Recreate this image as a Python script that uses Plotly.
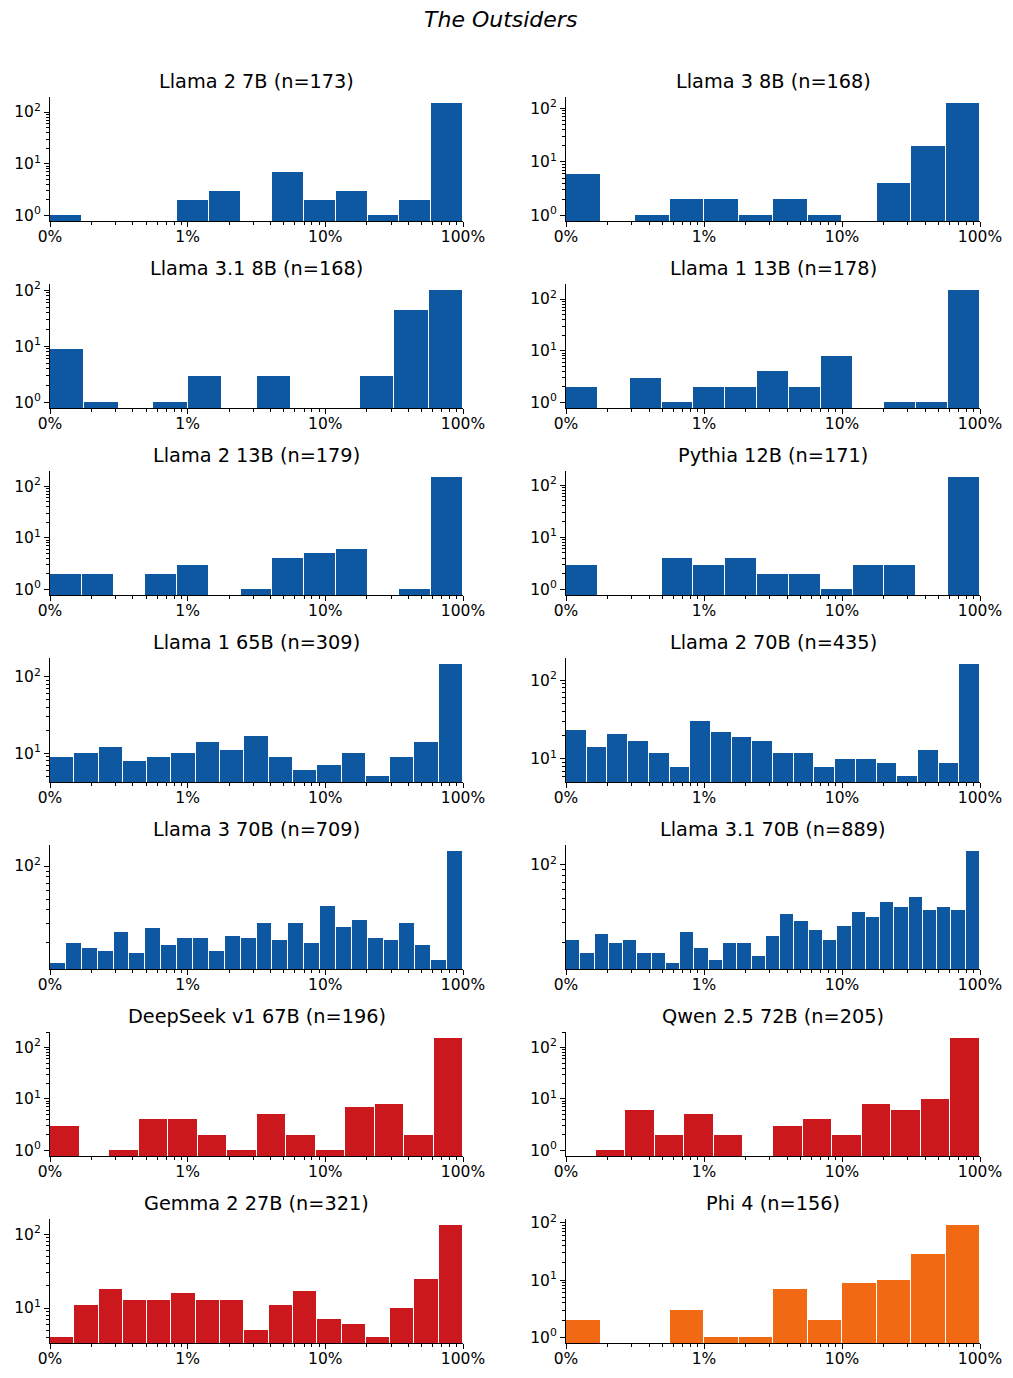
import numpy as np
import plotly.graph_objects as go

# ---- data: histogram counts per model (bins equally spaced in log10 of share, 0.1%..100%)
titles = [
    "Llama 2 7B (n=173)", "Llama 3 8B (n=168)",
    "Llama 3.1 8B (n=168)", "Llama 1 13B (n=178)",
    "Llama 2 13B (n=179)", "Pythia 12B (n=171)",
    "Llama 1 65B (n=309)", "Llama 2 70B (n=435)",
    "Llama 3 70B (n=709)", "Llama 3.1 70B (n=889)",
    "DeepSeek v1 67B (n=196)", "Qwen 2.5 72B (n=205)",
    "Gemma 2 27B (n=321)", "Phi 4 (n=156)",
]
llama2_7b = [1, 0, 0, 0, 2, 3, 0, 7, 2, 3, 1, 2, 152]
llama3_8b = [6, 0, 1, 2, 2, 1, 2, 1, 0, 4, 20, 129]
llama31_8b = [9, 1, 0, 1, 3, 0, 3, 0, 0, 3, 45, 103]
llama1_13b = [2, 0, 3, 1, 2, 2, 4, 2, 8, 0, 1, 1, 152]
llama2_13b = [2, 2, 0, 2, 3, 0, 1, 4, 5, 6, 0, 1, 153]
pythia_12b = [3, 0, 0, 4, 3, 4, 2, 2, 1, 3, 3, 0, 146]
llama1_65b = [9, 10, 12, 8, 9, 10, 14, 11, 17, 9, 6, 7, 10, 5, 9, 14, 149]
llama2_70b = [23, 14, 21, 17, 12, 8, 30, 22, 19, 17, 12, 12, 8, 10, 10, 9, 6, 13, 9, 163]
llama3_70b = [13, 20, 18, 17, 25, 16, 27, 19, 22, 22, 17, 23, 22, 30, 21, 30, 20, 43,
              28, 32, 22, 21, 30, 19, 14, 138]
llama31_70b = [21, 16, 24, 20, 21, 16, 16, 13, 25, 18, 14, 20, 20, 15, 23, 36, 31, 26,
               21, 28, 38, 34, 46, 42, 51, 39, 42, 39, 134]
deepseek_67b = [3, 0, 1, 4, 4, 2, 1, 5, 2, 1, 7, 8, 2, 156]
qwen25_72b = [0, 1, 6, 2, 5, 2, 0, 3, 4, 2, 8, 6, 10, 156]
gemma2_27b = [4, 11, 18, 13, 13, 16, 13, 13, 5, 11, 17, 7, 6, 4, 10, 25, 135]
phi4 = [2, 0, 0, 3, 1, 1, 7, 2, 9, 10, 28, 93]

series = [llama2_7b, llama3_8b, llama31_8b, llama1_13b, llama2_13b, pythia_12b,
          llama1_65b, llama2_70b, llama3_70b, llama31_70b, deepseek_67b, qwen25_72b,
          gemma2_27b, phi4]

x_tick_vals = [-3, -2, -1, 0]
x_tick_text = ["0%", "1%", "10%", "100%"]
y_tick_vals = [1, 10, 100]
y_tick_text = ["10<sup>0</sup>", "10<sup>1</sup>", "10<sup>2</sup>"]

BLUE, RED, ORANGE = "#0e58a2", "#cb181d", "#f16913"
colors = [BLUE] * 10 + [RED] * 3 + [ORANGE]

# ---- layout geometry (pixels)
W, H = 1013, 1378
col_x = [(50, 463), (566, 980)]
row_top0, row_pitch, ax_h = 97, 187, 124
FONT = "DejaVu Sans"

minor_x = [float(np.log10(m * 10.0 ** e)) for e in (-3, -2, -1) for m in range(2, 10)]
minor_y = [m * 10 ** e for e in (0, 1, 2) for m in range(2, 10)]

fig = go.Figure()
annotations = []
layout = {}
for i, (title, cnts, color) in enumerate(zip(titles, series, colors)):
    r, c = divmod(i, 2)
    k = i + 1
    sx = "" if k == 1 else str(k)
    edges = np.linspace(-3, 0, len(cnts) + 1)
    centers = (edges[:-1] + edges[1:]) / 2
    width = edges[1] - edges[0]
    yvals = [v if v > 0 else None for v in cnts]
    fig.add_trace(go.Bar(
        x=centers, y=yvals, width=width,
        marker=dict(color=color, line=dict(color="white", width=1)),
        xaxis="x" + sx, yaxis="y" + sx, showlegend=False, hoverinfo="skip",
    ))
    pos = [v for v in cnts if v > 0]
    lo, hi = np.log10(min(pos)), np.log10(max(pos))
    L = hi - lo
    yr = [lo - 0.05 * L, hi + 0.05 * L]

    x0, x1 = col_x[c]
    top = row_top0 + r * row_pitch
    bot = top + ax_h
    common = dict(
        ticks="outside", ticklen=5, tickwidth=1.2, tickcolor="black",
        showline=True, linecolor="black", linewidth=1.2, mirror=False,
        showgrid=False, zeroline=False, automargin=False, fixedrange=True,
        tickfont=dict(family=FONT, size=15.5, color="black"),
    )
    layout["xaxis" + sx] = dict(
        domain=[x0 / W, x1 / W], anchor="y" + sx, range=[-3, 0],
        tickmode="array", tickvals=x_tick_vals, ticktext=x_tick_text,
        ticklabelstandoff=-4,
        minor=dict(tickmode="array", tickvals=minor_x, ticks="outside",
                   ticklen=3, tickwidth=1, tickcolor="black", showgrid=False),
        **common,
    )
    layout["yaxis" + sx] = dict(
        domain=[1 - bot / H, 1 - top / H], anchor="x" + sx, type="log", range=yr,
        tickmode="array", tickvals=y_tick_vals, ticktext=y_tick_text,
        minor=dict(tickmode="array", tickvals=minor_y, ticks="outside",
                   ticklen=3, tickwidth=1, tickcolor="black", showgrid=False),
        **common,
    )
    annotations.append(dict(
        text=title, xref="paper", yref="paper",
        x=(x0 + x1) / 2 / W, y=1 - (top - 16) / H,
        xanchor="center", yanchor="middle", showarrow=False,
        font=dict(family=FONT, size=19.3, color="black"),
    ))

annotations.append(dict(
    text="<i>The Outsiders</i>", xref="paper", yref="paper",
    x=500 / W, y=1 - 20 / H, xanchor="center", yanchor="middle", showarrow=False,
    font=dict(family=FONT, size=22, color="black"),
))

fig.update_layout(
    width=W, height=H, margin=dict(l=0, r=0, t=0, b=0, autoexpand=False),
    paper_bgcolor="white", plot_bgcolor="white",
    annotations=annotations, bargap=0, showlegend=False,
    **layout,
)
fig.write_html("out.html")
